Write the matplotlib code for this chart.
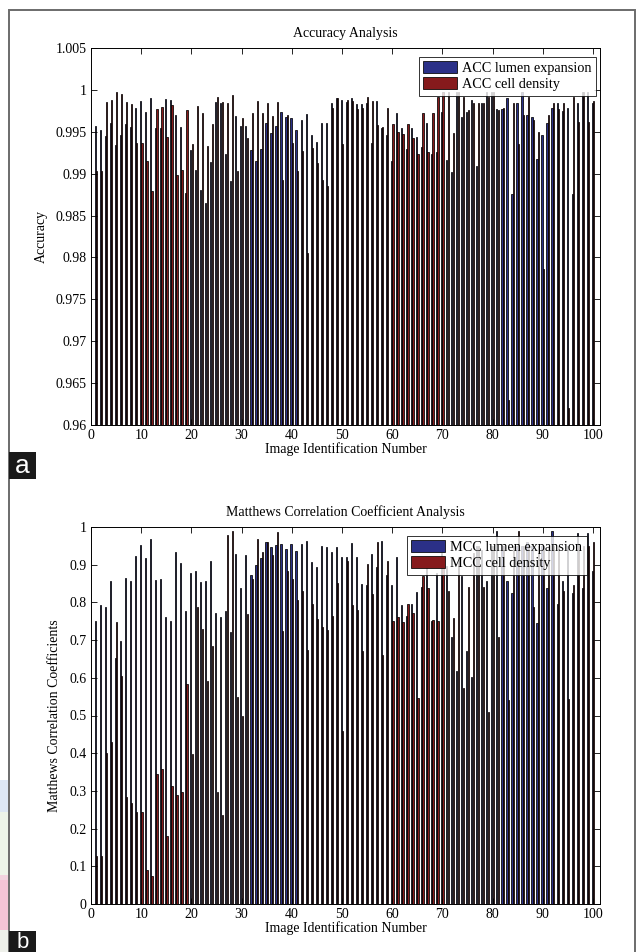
import numpy as np
import matplotlib
matplotlib.use("Agg")
import matplotlib.pyplot as plt
from matplotlib.patches import Rectangle

plt.rcParams['font.family'] = ['Liberation Serif', 'DejaVu Serif']

# ---------------- data ----------------
image_ids = np.arange(1, 101)

acc_lumen = [0.9957, 0.9952, 0.9945, 0.9961, 0.9934, 0.9946, 0.9959, 0.9956, 0.9978, 0.9987,
             0.9974, 0.9990, 0.9954, 0.9954, 0.9989, 0.9988, 0.9970, 0.9956, 0.9877, 0.9928,
             0.9904, 0.9881, 0.9865, 0.9914, 0.9986, 0.9984, 0.9923, 0.9891, 0.9969, 0.9957,
             0.9957, 0.9928, 0.9915, 0.9930, 0.9961, 0.9948, 0.9957, 0.9974, 0.9968, 0.9967,
             0.9952, 0.9964, 0.9971, 0.9946, 0.9938, 0.9960, 0.9960, 0.9984, 0.9990, 0.9988,
             0.9985, 0.9990, 0.9983, 0.9983, 0.9984, 0.9937, 0.9987, 0.9955, 0.9946, 0.9915,
             0.9972, 0.9954, 0.9929, 0.9954, 0.9944, 0.9932, 0.9960, 0.9924, 0.9926, 0.9974,
             0.9916, 0.9902, 0.9998, 0.9968, 0.9974, 0.9988, 0.9909, 0.9984, 0.9998, 0.9998,
             0.9977, 0.9977, 0.9990, 0.9876, 0.9984, 0.9998, 0.9970, 0.9968, 0.9918, 0.9946,
             0.9960, 0.9978, 0.9984, 0.9975, 0.9978, 0.9876, 0.9984, 0.9998, 0.9998, 0.9984]

acc_cell = [0.9903, 0.9903, 0.9985, 0.9988, 0.9997, 0.9995, 0.9985, 0.9983, 0.9937, 0.9937,
            0.9915, 0.9879, 0.9977, 0.9980, 0.9944, 0.9982, 0.9898, 0.9904, 0.9976, 0.9935,
            0.9981, 0.9973, 0.9933, 0.9959, 0.9992, 0.9986, 0.9984, 0.9994, 0.9903, 0.9967,
            0.9942, 0.9972, 0.9987, 0.9972, 0.9984, 0.9969, 0.9986, 0.9893, 0.9970, 0.9937,
            0.9903, 0.9927, 0.9805, 0.9931, 0.9913, 0.9893, 0.9885, 0.9978, 0.9990, 0.9935,
            0.9988, 0.9987, 0.9977, 0.9978, 0.9991, 0.9987, 0.9958, 0.9956, 0.9978, 0.9959,
            0.9950, 0.9947, 0.9959, 0.9943, 0.9923, 0.9973, 0.9926, 0.9973, 0.9991, 0.9998,
            0.9998, 0.9948, 0.9998, 0.9992, 0.9976, 0.9984, 0.9984, 0.9984, 0.9992, 0.9998,
            0.9976, 0.9978, 0.9630, 0.9984, 0.9936, 0.9970, 0.9992, 0.9964, 0.9950, 0.9786,
            0.9970, 0.9984, 0.9977, 0.9984, 0.9620, 0.9992, 0.9962, 0.9998, 0.9962, 0.9987]

mcc_lumen = [0.751, 0.794, 0.789, 0.858, 0.652, 0.697, 0.866, 0.858, 0.922, 0.953,
             0.918, 0.969, 0.859, 0.862, 0.761, 0.750, 0.935, 0.904, 0.778, 0.877,
             0.884, 0.854, 0.858, 0.911, 0.773, 0.761, 0.776, 0.721, 0.929, 0.838,
             0.925, 0.873, 0.900, 0.918, 0.960, 0.946, 0.951, 0.955, 0.942, 0.955,
             0.937, 0.955, 0.964, 0.907, 0.893, 0.949, 0.947, 0.934, 0.946, 0.920,
             0.920, 0.958, 0.920, 0.849, 0.847, 0.929, 0.893, 0.962, 0.872, 0.847,
             0.920, 0.792, 0.765, 0.796, 0.827, 0.840, 0.896, 0.750, 0.878, 0.930,
             0.896, 0.707, 0.617, 0.869, 0.670, 0.601, 0.950, 0.940, 0.858, 0.950,
             0.990, 0.950, 0.858, 0.825, 0.950, 0.950, 0.960, 0.950, 0.745, 0.950,
             0.838, 0.990, 0.796, 0.858, 0.950, 0.825, 0.985, 0.838, 0.985, 0.882]

mcc_cell = [0.126, 0.126, 0.400, 0.429, 0.748, 0.605, 0.283, 0.267, 0.243, 0.243,
            0.090, 0.075, 0.345, 0.358, 0.181, 0.312, 0.288, 0.298, 0.584, 0.398,
            0.787, 0.729, 0.592, 0.685, 0.296, 0.235, 0.978, 0.990, 0.548, 0.500,
            0.770, 0.863, 0.969, 0.934, 0.960, 0.927, 0.987, 0.723, 0.884, 0.863,
            0.807, 0.831, 0.674, 0.796, 0.756, 0.736, 0.727, 0.765, 0.851, 0.459,
            0.911, 0.794, 0.781, 0.672, 0.902, 0.822, 0.960, 0.661, 0.911, 0.751,
            0.760, 0.748, 0.796, 0.772, 0.546, 0.869, 0.838, 0.754, 0.751, 0.900,
            0.829, 0.758, 0.920, 0.574, 0.840, 0.930, 0.950, 0.842, 0.509, 0.950,
            0.707, 0.950, 0.542, 0.950, 0.990, 0.950, 0.950, 0.789, 0.950, 0.950,
            0.950, 0.950, 0.950, 0.831, 0.544, 0.847, 0.950, 0.950, 0.950, 0.960]

acc_yticks = [0.96, 0.965, 0.97, 0.975, 0.98, 0.985, 0.99, 0.995, 1.0, 1.005]
acc_yticklabels = ['0.96', '0.965', '0.97', '0.975', '0.98', '0.985', '0.99', '0.995', '1', '1.005']
mcc_yticks = [0, 0.1, 0.2, 0.3, 0.4, 0.5, 0.6, 0.7, 0.8, 0.9, 1.0]
mcc_yticklabels = ['0', '0.1', '0.2', '0.3', '0.4', '0.5', '0.6', '0.7', '0.8', '0.9', '1']
xticks = [0, 10, 20, 30, 40, 50, 60, 70, 80, 90, 100]

BLUE = '#2b3088'
RED = '#861a1c'
W, H = 644, 952

fig = plt.figure(figsize=(W / 100, H / 100), dpi=100)


def fx(px):
    return px / W


def fy(py):
    return 1 - py / H


def panel(rect, lum, cel, ylim, yt, ytl, title, ylabel, labels, leg_anchor):
    ax = fig.add_axes(rect)
    off, bw = 0.143, 0.24
    ax.bar(image_ids - off, lum, width=bw, color=BLUE, edgecolor='black',
           linewidth=0.55, label=labels[0])
    ax.bar(image_ids + off, cel, width=bw, color=RED, edgecolor='black',
           linewidth=0.55, label=labels[1])
    ax.set_xlim(0, 101.4)
    ax.set_ylim(*ylim)
    ax.set_yticks(yt)
    ax.set_yticklabels(ytl)
    ax.set_xticks(xticks)
    ax.tick_params(direction='in', top=True, right=True, labelsize=10,
                   length=4, width=0.6, pad=3)
    for s in ax.spines.values():
        s.set_linewidth(0.7)
    ax.set_title(title, fontsize=10, pad=8)
    ax.set_xlabel('Image Identification Number', fontsize=10, labelpad=0)
    ax.set_ylabel(ylabel, fontsize=10, labelpad=6)
    leg = ax.legend(loc='upper right', bbox_to_anchor=leg_anchor, fontsize=10.3,
                    frameon=True, fancybox=False, edgecolor='black',
                    handlelength=2.4, handleheight=0.9, handletextpad=0.35,
                    labelspacing=0.15, borderpad=0.3, borderaxespad=0)
    leg.get_frame().set_linewidth(0.7)
    return ax


ax1 = panel([fx(91), fy(425), fx(600) - fx(91), fy(48) - fy(425)],
            acc_lumen, acc_cell, (0.96, 1.005), acc_yticks, acc_yticklabels,
            'Accuracy Analysis', 'Accuracy',
            ['ACC lumen expansion', 'ACC cell density'], (0.992, 0.976))

ax2 = panel([fx(91), fy(904), fx(600) - fx(91), fy(527) - fy(904)],
            mcc_lumen, mcc_cell, (0, 1), mcc_yticks, mcc_yticklabels,
            'Matthews Correlation Coefficient Analysis',
            'Matthews Correlation Coefficients',
            ['MCC lumen expansion', 'MCC cell density'], (0.974, 0.976))

# page decorations: colored strips at far left, frame, panel tags
for (y0, y1, c) in [(780, 812, '#dde7f4'), (812, 875, '#edf4e9'),
                    (875, 880, '#f2d3df'), (880, 930, '#f3c4d6'), (930, 952, '#eef0ea')]:
    fig.add_artist(Rectangle((0, fy(y1)), fx(8), fy(y0) - fy(y1),
                             transform=fig.transFigure, facecolor=c,
                             edgecolor='none', zorder=0))

fig.add_artist(Rectangle((fx(9), fy(970)), fx(635) - fx(9), fy(10) - fy(970),
                         transform=fig.transFigure, facecolor='none',
                         edgecolor='#6b6b6b', linewidth=1.4, zorder=5))

for (txt, y0, y1, ty, fs) in [('a', 452, 479, 466, 19), ('b', 931, 960, 942, 16)]:
    fig.add_artist(Rectangle((fx(9), fy(y1)), fx(36) - fx(9), fy(y0) - fy(y1),
                             transform=fig.transFigure, facecolor='#1a1a1a',
                             edgecolor='none', zorder=6))
    fig.text(fx(22.5), fy(ty), txt,
             color='white', fontsize=fs, family=['Liberation Sans', 'DejaVu Sans'],
             ha='center', va='center', zorder=7)

fig.savefig('out.png', dpi=100)
